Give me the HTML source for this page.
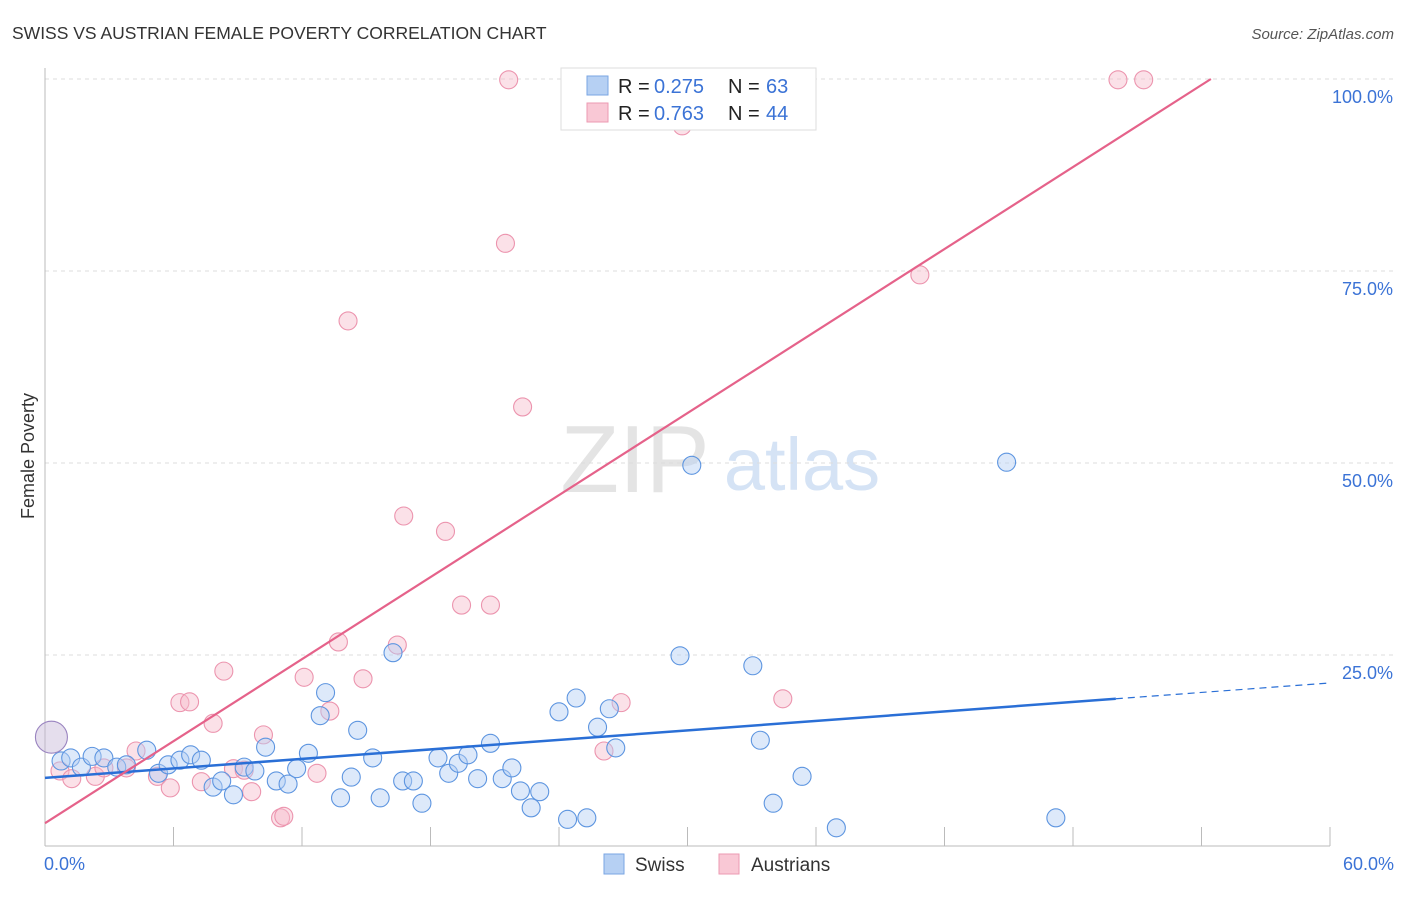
<!DOCTYPE html>
<html><head><meta charset="utf-8"><style>
body{margin:0;background:#fff;font-family:"Liberation Sans",sans-serif;}
svg text{font-family:"Liberation Sans",sans-serif;}
</style></head><body>
<svg id="chart" width="1406" height="892" xmlns="http://www.w3.org/2000/svg">
<text x="12" y="39" font-size="17.5" fill="#333">SWISS VS AUSTRIAN FEMALE POVERTY CORRELATION CHART</text>
<text x="1394" y="39" font-size="15" fill="#555" font-style="italic" text-anchor="end">Source: ZipAtlas.com</text>
<text x="34" y="456" font-size="18" fill="#333" text-anchor="middle" transform="rotate(-90 34 456)">Female Poverty</text>
<g><text x="635" y="492" font-size="96" fill="#e4e4e4" font-family="Liberation Serif" text-anchor="middle">ZIP</text><text x="802" y="490" font-size="74" fill="#d5e3f5" text-anchor="middle">atlas</text></g>
<g id="grid"></g><g id="axes"></g><g id="marks"></g><g id="lines"></g>
<g>
<rect x="561" y="68" width="255" height="62" fill="#fff" stroke="#ddd"/>
<rect x="587" y="76" width="21" height="19" fill="#b6d0f3" stroke="#7aa6e3"/>
<text x="618" y="93" font-size="20" fill="#222">R = </text><text x="654" y="93" font-size="20" fill="#3b73d6">0.275</text><text x="728" y="93" font-size="20" fill="#222">N =</text><text x="766" y="93" font-size="20" fill="#3b73d6">63</text>
<rect x="587" y="103" width="21" height="19" fill="#f9c8d5" stroke="#ec9ab2"/>
<text x="618" y="120" font-size="20" fill="#222">R = </text><text x="654" y="120" font-size="20" fill="#3b73d6">0.763</text><text x="728" y="120" font-size="20" fill="#222">N =</text><text x="766" y="120" font-size="20" fill="#3b73d6">44</text>
</g>
<g>
<rect x="604" y="854" width="20" height="20" fill="#b6d0f3" stroke="#7aa6e3"/>
<text x="635" y="871" font-size="19" fill="#333">Swiss</text>
<rect x="719" y="854" width="20" height="20" fill="#f9c8d5" stroke="#ec9ab2"/>
<text x="751" y="871" font-size="19" fill="#333">Austrians</text>
</g>
</svg>
<script>
const yTicks=[25,50,75,100];
const yTickLabels=["25.0%","50.0%","75.0%","100.0%"];
const xTickLabels=["0.0%","60.0%"];
const swissX=[0.75,1.2,1.7,2.2,2.75,3.35,3.8,4.75,5.3,5.75,6.3,6.8,7.3,7.85,8.25,8.8,9.3,9.8,10.3,10.8,11.35,11.75,12.3,12.85,13.1,13.8,14.3,14.6,15.3,15.65,16.25,16.7,17.2,17.6,18.35,18.85,19.3,19.75,20.2,20.8,21.35,21.8,22.2,22.7,23.1,24.0,24.4,24.8,25.3,25.8,26.35,26.65,29.65,30.2,33.05,33.4,34.0,35.35,36.95,44.9,47.2];
const swissY=[11.2,11.6,10.4,11.8,11.6,10.4,10.7,12.6,9.6,10.7,11.3,12.0,11.3,7.8,8.6,6.8,10.4,9.9,13.0,8.6,8.2,10.2,12.2,17.1,20.1,6.4,9.1,15.2,11.6,6.4,25.3,8.6,8.6,5.7,11.6,9.6,10.9,12.0,8.9,13.5,8.9,10.3,7.3,5.1,7.2,17.6,3.6,19.4,3.8,15.6,18.0,12.9,24.9,49.7,23.6,13.9,5.7,9.2,2.5,50.1,3.8];
const austX=[0.7,1.25,2.35,2.75,3.8,4.25,5.25,5.85,6.3,6.75,7.3,7.85,8.35,8.8,9.3,9.65,10.2,11.0,11.15,12.1,12.7,13.3,13.7,14.15,14.85,16.45,16.75,18.7,19.45,20.8,21.5,21.65,22.3,26.1,26.9,29.75,34.45,40.85,50.1,51.3];
const austY=[9.9,8.9,9.2,10.3,10.3,12.5,9.2,7.7,18.8,18.9,8.5,16.1,22.9,10.2,10.0,7.2,14.6,3.8,4.0,22.1,9.6,17.7,26.7,68.5,21.9,26.3,43.1,41.1,31.5,31.5,78.6,99.9,57.3,12.5,18.8,93.9,19.3,74.5,99.9,99.9];
const bigX=[0.3], bigY=[14.3];
const swissFit=[9.0,0.206], austFit=[3.1,1.78];
const NS="http://www.w3.org/2000/svg";
const X0=45,X1=1330,Y0=847,Y1=79;
const sx=v=>X0+(X1-X0)*v/60, sy=v=>Y0-(Y0-Y1)*v/100;
function mk(tag,attrs,parent){const e=document.createElementNS(NS,tag);for(const k in attrs)e.setAttribute(k,attrs[k]);document.getElementById(parent).appendChild(e);return e;}
yTicks.forEach((t,i)=>{
 const g=mk('line',{x1:X0,x2:1393,y1:sy(t),y2:sy(t),stroke:'#ddd','stroke-dasharray':'4,4'},'grid');
 
 
 const l=mk('text',{x:1393,y:sy(t)+24,'font-size':18,fill:'#3b73d6','text-anchor':'end'},'axes');
 l.textContent=yTickLabels[i];
 
 
});
const ax=mk('line',{x1:X0,x2:X0,y1:68,y2:846,stroke:'#bbb'},'axes');


const bx=mk('line',{x1:X0,x2:1330,y1:846,y2:846,stroke:'#bbb'},'axes');


for(let i=1;i<=10;i++){const t=mk('line',{x1:sx(i*6),x2:sx(i*6),y1:827,y2:846,stroke:'#bbb'},'axes');
 
 }
[[0,'start',44],[60,'end',1394]].forEach((p,i)=>{const t=mk('text',{x:p[2],y:870,'font-size':18,fill:'#3b73d6','text-anchor':p[1]},'axes');t.textContent=xTickLabels[i];
 
 });
function pts(xs,ys,fill,stroke,name,r){xs.forEach((x,i)=>{const c=mk('circle',{cx:sx(x),cy:sy(ys[i]),r:r,fill:fill,'fill-opacity':0.45,stroke:stroke,'stroke-width':1.1},'marks');
 
 });}
pts(austX,austY,'#f7bccb','#ec94ae','austrians-point',9);
pts(swissX,swissY,'#b3cff3','#5d95e0','swiss-point',9);
pts(bigX,bigY,'#c6b6d6','#9a84c0','large-point',16);
const f=(fit,x)=>fit[0]+fit[1]*x;
const bl=mk('line',{x1:sx(0),y1:sy(f(swissFit,0)),x2:sx(50),y2:sy(f(swissFit,50)),stroke:'#2a6fd6','stroke-width':2.5},'lines');


const bd=mk('line',{x1:sx(50),y1:sy(f(swissFit,50)),x2:sx(60),y2:sy(f(swissFit,60)),stroke:'#2a6fd6','stroke-width':1.2,'stroke-dasharray':'7,5'},'lines');


const xe=(100-austFit[0])/austFit[1];
const pl=mk('line',{x1:sx(0),y1:sy(f(austFit,0)),x2:sx(xe),y2:sy(100),stroke:'#e5628a','stroke-width':2.2},'lines');


</script>
</body></html>
